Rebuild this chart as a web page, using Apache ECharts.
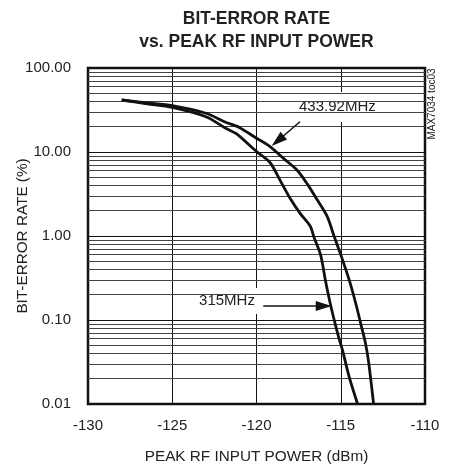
<!DOCTYPE html>
<html><head><meta charset="utf-8">
<script src="https://cdn.jsdelivr.net/npm/echarts@6/dist/echarts.min.js"></script>
<style>html,body{margin:0;padding:0;background:#fff}#c{width:451px;height:471px}</style>
</head><body><div id="c"></div>
<script>
// ---- data ----
const xTicks = [-130, -125, -120, -115, -110];
const yTicks = [0.01, 0.1, 1, 10, 100];
const minorMult = [2, 3, 4, 5, 6, 7, 8, 9];

const x315 = [-128.0, -126.5, -125.0, -123.0, -121.8, -121.2, -120.0, -119.2, -118.6, -118.0, -117.4, -116.8, -116.6, -116.2, -115.9, -115.6, -115.3, -115.1, -114.9, -114.5, -114.0];
const y315 = [41.6, 37.5, 34.0, 26.3, 19.0, 16.5, 10.1, 7.5, 4.6, 2.8, 1.85, 1.3, 0.98, 0.6, 0.29, 0.15, 0.085, 0.06, 0.044, 0.021, 0.010];

const x433 = [-128.0, -126.5, -125.0, -123.0, -121.8, -121.0, -120.0, -119.2, -118.4, -117.6, -117.0, -116.4, -115.8, -115.4, -115.0, -114.5, -114.1, -113.8, -113.55, -113.35, -113.05];
const y433 = [41.6, 38.5, 35.6, 28.9, 22.5, 19.5, 14.6, 11.6, 8.4, 6.1, 4.2, 2.7, 1.7, 1.0, 0.6, 0.3, 0.155, 0.088, 0.055, 0.032, 0.010];

const seriesNames = ['315MHz', '433.92MHz'];
// label box centres (data coords) and arrow endpoints (data coords)
const labelPos = [[-121.75, 0.168], [-115.2, 34.4]];
const arrow315 = [[-119.6, 0.147], [-116.01, 0.147]];
const arrow433 = [[-117.42, 22.9], [-118.74, 13.6]];

const FONT = '"Liberation Sans", Arial, sans-serif';
const TXT = '#222';

const minorLines = [];
yTicks.slice(0, -1).forEach(d => minorMult.forEach(m => minorLines.push({ yAxis: +(d * m).toPrecision(3) })));

const zip = (xs, ys) => xs.map((x, i) => [x, ys[i]]);

const chart = echarts.init(document.getElementById('c'));
chart.setOption({
  animation: false,
  backgroundColor: '#fff',
  textStyle: { fontFamily: FONT },
  grid: { left: 88, right: 26, top: 68, bottom: 67, show: true, borderColor: '#111', borderWidth: 2.5, backgroundColor: 'transparent', outerBoundsMode: 'none', containLabel: false },
  graphic: [
    { type: 'text', x: 256.5, y: 19, style: { text: 'BIT-ERROR RATE', fontSize: 17.5, fontWeight: 'bold', fontFamily: FONT, fill: TXT, align: 'center', verticalAlign: 'middle' } },
    { type: 'text', x: 256.5, y: 42, style: { text: 'vs. PEAK RF INPUT POWER', fontSize: 17.5, fontWeight: 'bold', fontFamily: FONT, fill: TXT, align: 'center', verticalAlign: 'middle' } },
    { type: 'text', x: 432, y: 104, rotation: Math.PI / 2, style: { text: 'MAX7034 toc03', fontSize: 10, fontFamily: FONT, fill: TXT, align: 'center', verticalAlign: 'middle' } }
  ],
  xAxis: {
    type: 'value', min: xTicks[0], max: xTicks[xTicks.length - 1], interval: 5,
    axisLine: { show: false }, axisTick: { show: false },
    splitLine: { show: true, lineStyle: { color: '#111', width: 1 } },
    axisLabel: { fontSize: 15, color: TXT, margin: 14, fontFamily: FONT },
    name: 'PEAK RF INPUT POWER (dBm)', nameLocation: 'middle', nameGap: 45, nameMoveOverlap: false,
    nameTextStyle: { fontSize: 15.3, color: TXT, fontFamily: FONT }
  },
  yAxis: {
    type: 'log', logBase: 10, min: yTicks[0], max: yTicks[yTicks.length - 1],
    axisLine: { show: false }, axisTick: { show: false },
    splitLine: { show: true, lineStyle: { color: '#111', width: 1 } },
    axisLabel: { fontSize: 15, color: TXT, margin: 17, fontFamily: FONT, formatter: v => (+v).toFixed(2) },
    name: 'BIT-ERROR RATE (%)', nameLocation: 'middle', nameGap: 58, nameRotate: 90, nameMoveOverlap: false,
    nameTextStyle: { fontSize: 15.3, color: TXT, fontFamily: FONT }
  },
  series: [
    {
      name: 'minor', type: 'line', data: [], z: 1, silent: true,
      markLine: { silent: true, symbol: ['none', 'none'], label: { show: false }, animation: false,
        lineStyle: { color: '#444', width: 1, type: 'solid' }, data: minorLines }
    },
    {
      name: 'labels', type: 'scatter', z: 3, silent: true,
      data: [
        { value: labelPos[0], symbolSize: [74, 26], label: { formatter: seriesNames[0] } },
        { value: labelPos[1], symbolSize: [87, 30], label: { formatter: seriesNames[1] } }
      ],
      symbol: 'rect', itemStyle: { color: '#fff', opacity: 1 },
      label: { show: true, position: 'inside', fontSize: 15, color: TXT, fontFamily: FONT },
      markLine: {
        silent: true, symbol: ['none', 'triangle'], symbolSize: [10, 16], label: { show: false },
        lineStyle: { color: '#111', width: 1.5, type: 'solid' },
        data: [
          [{ coord: arrow315[0] }, { coord: arrow315[1] }],
          [{ coord: arrow433[0] }, { coord: arrow433[1] }]
        ]
      }
    },
    { name: seriesNames[0], type: 'line', z: 5, data: zip(x315, y315), symbol: 'none', smooth: 0.3, lineStyle: { color: '#111', width: 2.8 } },
    { name: seriesNames[1], type: 'line', z: 5, data: zip(x433, y433), symbol: 'none', smooth: 0.3, lineStyle: { color: '#111', width: 2.8 } }
  ]
});
</script>
</body></html>
